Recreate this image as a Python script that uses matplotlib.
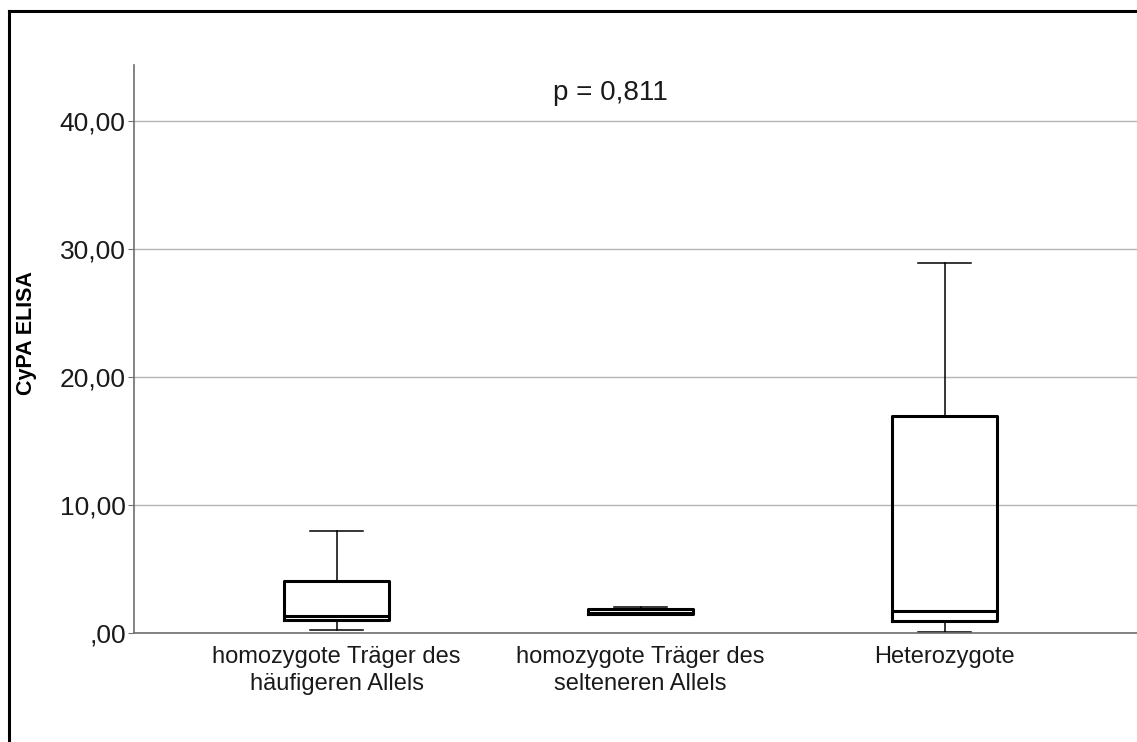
import matplotlib
matplotlib.use("Agg")
import matplotlib.pyplot as plt
from matplotlib.lines import Line2D

# Kategorien und Boxplot-Kennwerte
categories = ["homozygote Träger des\nhäufigeren Allels",
              "homozygote Träger des\nselteneren Allels",
              "Heterozygote"]
whisker_low = [0.20, 1.40, 0.10]
q1 = [1.00, 1.45, 0.95]
median = [1.30, 1.60, 1.75]
q3 = [4.05, 1.85, 17.00]
whisker_high = [8.00, 2.05, 28.95]

y_ticks = [0, 10, 20, 30, 40]
y_tick_labels = [",00", "10,00", "20,00", "30,00", "40,00"]
p_text = "p = 0,811"

plt.rcParams['font.family'] = ['Liberation Sans', 'DejaVu Sans']

fig = plt.figure(figsize=(11.37, 7.42), dpi=100)
ax = fig.add_axes([0.1179, 0.1469, 0.8821, 0.7655])

stats = []
for i in range(len(categories)):
    stats.append({"whislo": whisker_low[i], "q1": q1[i], "med": median[i],
                  "q3": q3[i], "whishi": whisker_high[i], "fliers": []})

ax.bxp(stats, positions=[1, 2, 3], widths=0.345, showfliers=False,
       boxprops=dict(color="black", linewidth=2.2),
       medianprops=dict(color="black", linewidth=2.2),
       whiskerprops=dict(color="black", linewidth=1.1),
       capprops=dict(color="black", linewidth=1.1), capwidths=0.175)

ax.set_xlim(0.334, 3.633)
ax.set_ylim(0, 44.4)
ax.set_yticks(y_ticks)
ax.set_yticklabels(y_tick_labels, fontsize=19, color="#1a1a1a")
ax.set_xticks([1, 2, 3])
ax.set_xticklabels(categories, fontsize=17, color="#1a1a1a", linespacing=1.3)
ax.tick_params(axis="x", length=0, pad=9)
ax.tick_params(axis="y", length=4, color="#707070", pad=2)

ax.yaxis.grid(True, color="#b4b4b4", linewidth=1.0)
ax.set_axisbelow(True)
for s in ["top", "right"]:
    ax.spines[s].set_visible(False)
for s in ["left", "bottom"]:
    ax.spines[s].set_color("#6e6e6e")
    ax.spines[s].set_linewidth(1.2)

# Achsentitel
fig.text(27 / 1137, 1 - 333 / 742, "CyPA ELISA", fontsize=15.5, fontweight="bold",
         rotation=90, ha="center", va="center")
ax.text(1.90, 42.2, p_text, fontsize=20, ha="center", va="center", color="#1a1a1a")

# Rahmen um die Grafik (nur links und oben sichtbar)
fig.add_artist(Line2D([9 / 1137, 9 / 1137], [0, 1 - 11 / 742], transform=fig.transFigure,
                      color="black", linewidth=2.2, solid_capstyle="projecting"))
fig.add_artist(Line2D([9 / 1137, 1], [1 - 11 / 742, 1 - 11 / 742], transform=fig.transFigure,
                      color="black", linewidth=2.2, solid_capstyle="projecting"))

fig.savefig("out.png", dpi=100)
